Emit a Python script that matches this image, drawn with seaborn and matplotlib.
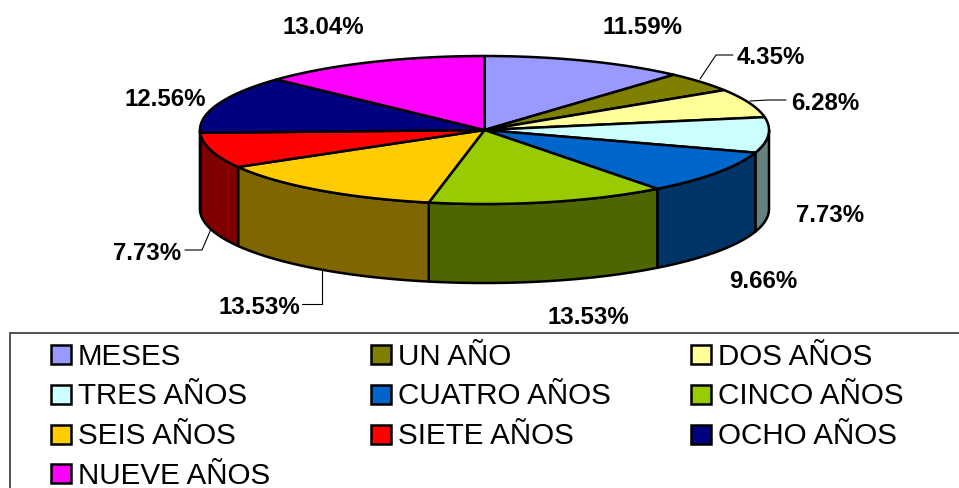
import numpy as np
import matplotlib
matplotlib.use('Agg')
import matplotlib.pyplot as plt
from matplotlib.patches import Polygon, Rectangle
import seaborn as sns

# Data
categories = ['MESES', 'UN AÑO', 'DOS AÑOS', 'TRES AÑOS', 'CUATRO AÑOS',
              'CINCO AÑOS', 'SEIS AÑOS', 'SIETE AÑOS', 'OCHO AÑOS', 'NUEVE AÑOS']
values = [11.59, 4.35, 6.28, 7.73, 9.66, 13.53, 13.53, 7.73, 12.56, 13.04]
colors = ['#9999FF', '#808000', '#FFFF99', '#CCFFFF', '#0066CC',
          '#99CC00', '#FFCC00', '#FF0000', '#000080', '#FF00FF']

# Label centres in pixels, same order as values
label_pos = [(642, 28), (771, 58), (825, 103), (830, 216), (763, 282),
             (588, 318), (259, 307), (147, 253), (165, 99), (323, 28)]

# Leader lines
leaders = [[(700, 80), (716, 56), (733, 56)],
           [(750, 102), (768, 101), (786, 101)],
           [(211, 230), (202, 251), (185, 251)],
           [(322, 270), (322, 305), (302, 305)]]

# Pie geometry in pixels
cx, cy = 484.5, 131
rx, ry = 284.5, 74
depth = 79

sns.set_theme(style='white')
plt.rcParams['font.family'] = ['Liberation Sans', 'DejaVu Sans']
palette = sns.color_palette(colors)

fig, ax = plt.subplots(figsize=(9.59, 4.89), dpi=100)
ax.set_position([0, 0, 1, 1])
ax.set_xlim(0, 959)
ax.set_ylim(489, 0)
ax.axis('off')


# Angles run clockwise from 12 o'clock, so the bottom of the ellipse is at 180
def top_arc(start, end):
    t = np.radians(np.linspace(start, end, 100))
    return np.column_stack([cx + rx * np.sin(t), cy - ry * np.cos(t)])


edges = np.cumsum([0] + values) / sum(values) * 360

# Side walls, only the front half of the pie shows them
for i, color in enumerate(palette):
    a = max(edges[i], 90)
    b = min(edges[i + 1], 270)
    if a < b:
        upper = top_arc(a, b)
        lower = upper[::-1] + [0, depth]
        ax.add_patch(Polygon(np.vstack([upper, lower]), closed=True,
                             facecolor=np.array(color) * 0.5, edgecolor='black',
                             linewidth=1.8, joinstyle='round'))

# Top of the pie
for i, color in enumerate(palette):
    pts = np.vstack([[cx, cy], top_arc(edges[i], edges[i + 1])])
    ax.add_patch(Polygon(pts, closed=True, facecolor=color, edgecolor='black',
                         linewidth=1.8, joinstyle='round'))

for line in leaders:
    xs, ys = zip(*line)
    ax.plot(xs, ys, color='black', linewidth=0.8)

for val, (x, y) in zip(values, label_pos):
    ax.text(x, y, f'{val:.2f}%', ha='center', va='center', fontsize=17.3,
            fontweight='bold', color='black')

# Legend box runs off the right and bottom of the image
ax.add_patch(Rectangle((10, 334), 1000, 200, facecolor='white', edgecolor='#333333',
                       linewidth=1.2))
col_x = [51, 371, 691]
row_y = [356, 395.5, 435.5, 475]
for i, name in enumerate(categories):
    x = col_x[i % 3]
    y = row_y[i // 3]
    ax.add_patch(Rectangle((x, y - 10), 20, 19, facecolor=palette[i], edgecolor='black',
                           linewidth=1.8))
    ax.text(x + 27, y + 1, name, ha='left', va='center', fontsize=21.3, color='black')

fig.savefig('out.png', dpi=100)
